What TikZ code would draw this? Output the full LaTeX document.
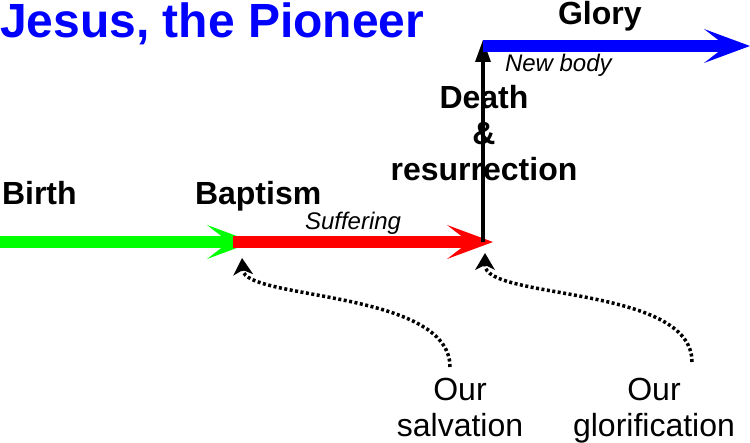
\documentclass[tikz,border=0pt]{standalone}
\usepackage{fontspec}
\setmainfont{Liberation Sans}
\usetikzlibrary{arrows.meta,positioning}

\begin{document}
\begin{tikzpicture}[
    x=1pt,y=1pt,
    every node/.style={inner sep=0pt,outer sep=0pt},
    heading/.style={anchor=base west,text=blue,font=\fontsize{48}{50}\selectfont\bfseries},
    stage/.style={anchor=base west,font=\fontsize{32}{36}\selectfont\bfseries},
    note/.style={anchor=base west,font=\fontsize{24}{28}\selectfont\itshape},
    believer/.style={align=center,anchor=north,font=\fontsize{32}{36}\selectfont},
    phase/.style={line width=11.5pt,-{Stealth[length=46pt,width=34pt,inset=22pt,line width=0pt]}},
    rise/.style={line width=3.5pt,-{Triangle[length=22pt,width=16pt,line width=0pt]}},
    dottedarrow/.style={line width=3.5pt,dash pattern=on 3pt off 2.5pt,-{Stealth[length=17pt,width=20pt,inset=5pt,line width=0pt]}}
]
\useasboundingbox (0,0) rectangle (750,442);

% =====================
% TIMELINE POINTS
% =====================
\coordinate (birth) at (0,200);
\coordinate (baptism) at (233,200);
\coordinate (greenend) at (253,200);
\coordinate (cross) at (493,200);
\coordinate (raised) at (483,200);
\coordinate (top) at (483,402);
\coordinate (glorystart) at (483,396);
\coordinate (gloryend) at (750,396);

% =====================
% ARROWS
% =====================
\draw[phase,green] (birth) -- (greenend);
\draw[phase,red] (baptism) -- (cross);
\draw[rise] (raised) -- (top);
\draw[phase,blue] (glorystart) -- (gloryend);

% =====================
% LABELS
% =====================
\node[heading] (title) at (0,404) {Jesus, the Pioneer};
\node[stage] (birthlabel) at (2,237) {Birth};
\node[stage] (baptismlabel) at (195,237) {Baptism};
\node[note] (suffering) at (305,212) {Suffering};
\node[stage] (glory) at (558,417) {Glory};
\node[note] (newbody) at (505,370) {New body};
\node[believer,font=\fontsize{32}{36}\selectfont\bfseries] (death) at (484,357) {Death\\\&\\resurrection};

\node[believer] (salvation) at (460,64) {Our\\salvation};
\node[believer] (glorification) at (654,64) {Our\\glorification};

% =====================
% DOTTED LINKS
% =====================
\coordinate (salvationtop) at (450,75);
\coordinate (baptismpoint) at (242,184);
\coordinate (glorificationtop) at (692,80);
\coordinate (crosspoint) at (485,189);

\draw[dottedarrow] (salvationtop) .. controls (450,152) and (245,142) .. (baptismpoint);
\draw[dottedarrow] (glorificationtop) .. controls (692,157) and (485,142) .. (crosspoint);

\end{tikzpicture}
\end{document}
